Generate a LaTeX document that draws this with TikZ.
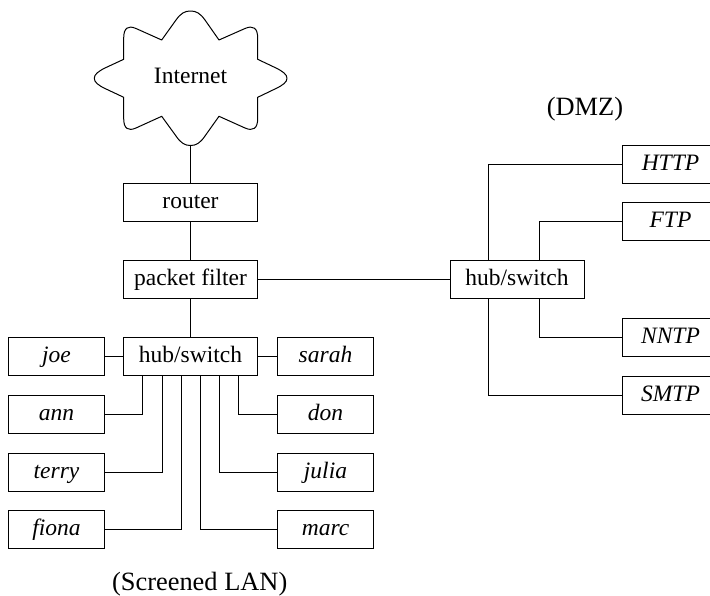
\documentclass[tikz,border=0pt]{standalone}
\usepackage{fontspec}
\setmainfont{Liberation Serif}
\tikzset{
  devbox/.style={draw=black,line width=1pt,minimum height=38pt,inner sep=0pt,outer sep=0pt,text height=16pt,text depth=4pt,font=\fontsize{23.5}{26}\selectfont},
  hostbox/.style={devbox,minimum width=96pt,font=\fontsize{23.5}{26}\selectfont\itshape},
  hubbox/.style={devbox,minimum width=134pt},
  caption/.style={inner sep=0pt,anchor=base,font=\fontsize{26.4}{30}\selectfont},
  cloudtext/.style={inner sep=0pt,anchor=base,font=\fontsize{23.5}{26}\selectfont},
  link/.style={draw=black,line width=1pt},
}
\begin{document}
\begin{tikzpicture}[x=1pt,y=-1pt]
\useasboundingbox (0,0) rectangle (710,596);
\clip (0,0) rectangle (710,596);
% cloud
\draw[link,line join=round] (123.7,59.3) -- (123.7,38)
  .. controls (123.7,28) and (128,25) .. (136,28.5)
  -- (161.7,40) -- (176,20)
  .. controls (181,13) and (185,11) .. (190.5,11)
  .. controls (196,11) and (200,13) .. (205,20)
  -- (219,40) -- (245,28.5)
  .. controls (253,25) and (257.7,28) .. (257.7,38)
  -- (257.7,59.3) -- (276,68)
  .. controls (283,71.5) and (287,74.5) .. (287,78.3)
  .. controls (287,82.1) and (283,85.1) .. (276,88.5)
  -- (257.7,97.3) -- (257.7,118.5)
  .. controls (257.7,128.5) and (253,131.5) .. (245,128)
  -- (219,116.3) -- (205,136)
  .. controls (200,143.3) and (196,145.5) .. (190.5,145.5)
  .. controls (185,145.5) and (181,143.3) .. (176,136)
  -- (161.7,116.3) -- (136,128)
  .. controls (128,131.5) and (123.7,128.5) .. (123.7,118.5)
  -- (123.7,97.3) -- (105,88.5)
  .. controls (98,85.1) and (94.3,82.1) .. (94.3,78.3)
  .. controls (94.3,74.5) and (98,71.5) .. (105,68)
  -- cycle;
\node[cloudtext] (cloud) at (190.5,83.4) {Internet};
\coordinate (cloudbottom) at (190.5,145.5);
% central column
\node[hubbox] (router) at (190.5,203) {router};
\node[hubbox] (filter) at (190.5,279.5) {packet filter};
\node[hubbox] (lanhub) at (190.5,356.5) {hub/switch};
\node[hubbox] (dmzhub) at (517,279.5) {hub/switch};
% LAN hosts
\node[hostbox] (joe) at (56.5,356.5) {joe};
\node[hostbox] (ann) at (56.5,414.5) {ann};
\node[hostbox] (terry) at (56.5,472) {terry};
\node[hostbox] (fiona) at (56.5,529.5) {fiona};
\node[hostbox] (sarah) at (325.5,356.5) {sarah};
\node[hostbox] (don) at (325.5,414.5) {don};
\node[hostbox] (julia) at (325.5,472) {julia};
\node[hostbox] (marc) at (325.5,529.5) {marc};
% DMZ hosts
\node[hostbox] (http) at (670.5,164.5) {HTTP};
\node[hostbox] (ftp) at (670.5,222) {FTP};
\node[hostbox] (nntp) at (670.5,337.5) {NNTP};
\node[hostbox] (smtp) at (670.5,395) {SMTP};
% captions
\node[caption] (dmzcap) at (585,115.5) {(DMZ)};
\node[caption] (lancap) at (199.7,590.7) {(Screened LAN)};
% connectors
\draw[link] (cloudbottom) -- (router.north);
\draw[link] (router) -- (filter);
\draw[link] (filter) -- (lanhub);
\draw[link] (filter) -- (dmzhub);
\draw[link] (joe) -- (lanhub);
\draw[link] (lanhub) -- (sarah);
\draw[link] ([xshift=-48pt]lanhub.south) |- (ann.east);
\draw[link] ([xshift=-28pt]lanhub.south) |- (terry.east);
\draw[link] ([xshift=-9pt]lanhub.south) |- (fiona.east);
\draw[link] ([xshift=10pt]lanhub.south) |- (marc.west);
\draw[link] ([xshift=29pt]lanhub.south) |- (julia.west);
\draw[link] ([xshift=48pt]lanhub.south) |- (don.west);
\draw[link] ([xshift=-28.5pt]dmzhub.north) |- (http.west);
\draw[link] ([xshift=22.5pt]dmzhub.north) |- (ftp.west);
\draw[link] ([xshift=22.5pt]dmzhub.south) |- (nntp.west);
\draw[link] ([xshift=-28.5pt]dmzhub.south) |- (smtp.west);
\end{tikzpicture}
\end{document}
